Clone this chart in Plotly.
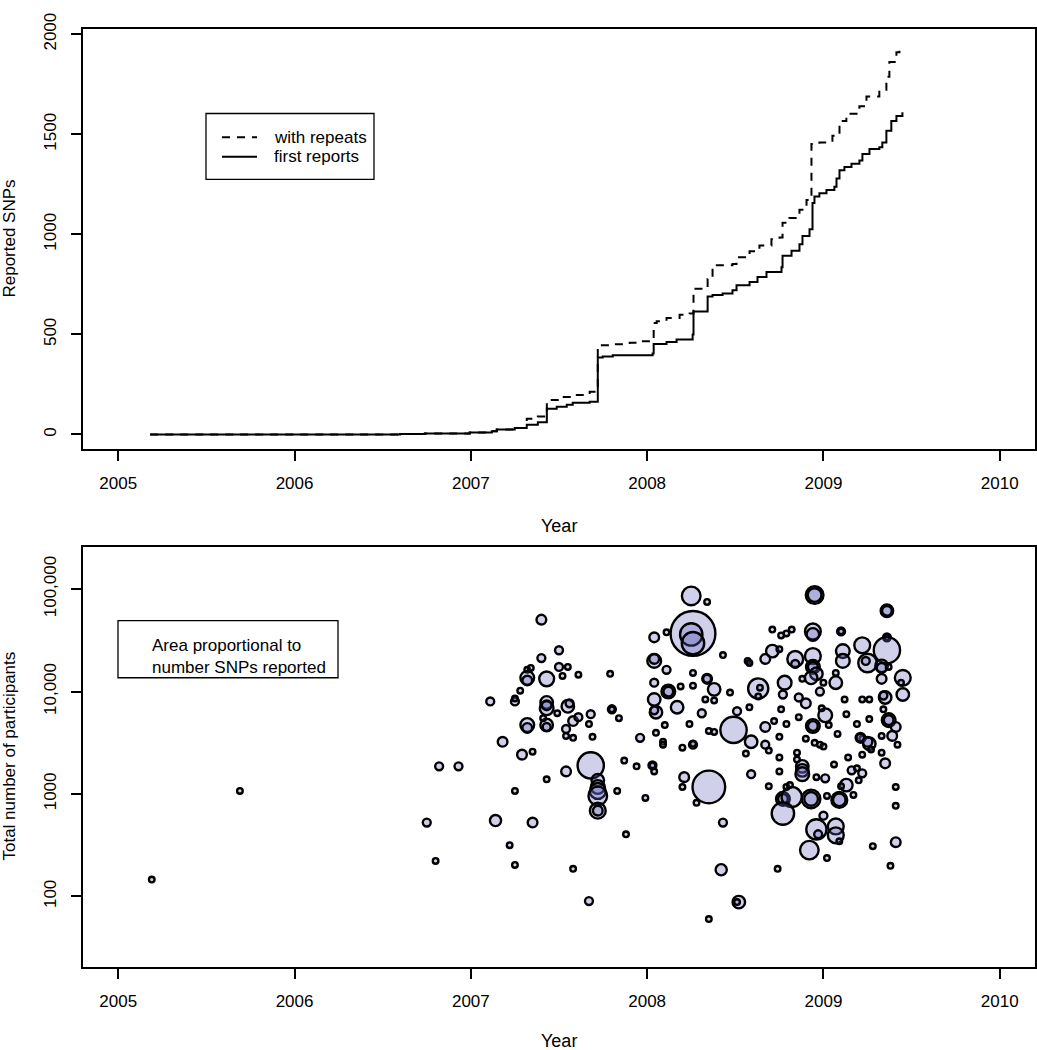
import plotly.graph_objects as go

# ---------------- Top panel: cumulative reported SNPs (step lines) ----------------
first_year = [2005.181, 2006.598, 2006.739, 2006.994, 2007.119, 2007.147, 2007.249, 2007.317,
              2007.380, 2007.431, 2007.487, 2007.544, 2007.578, 2007.674, 2007.720, 2007.748,
              2007.805, 2008.031, 2008.037, 2008.110, 2008.167, 2008.258, 2008.263, 2008.343,
              2008.371, 2008.428, 2008.484, 2008.507, 2008.581, 2008.626, 2008.677, 2008.762,
              2008.768, 2008.819, 2008.864, 2008.881, 2008.921, 2008.938, 2008.949, 2008.977,
              2009.017, 2009.062, 2009.074, 2009.091, 2009.119, 2009.159, 2009.204, 2009.221,
              2009.261, 2009.317, 2009.334, 2009.357, 2009.385, 2009.414, 2009.448]
first_snps = [0, 3, 5, 10, 16, 25, 33, 49,
              61, 128, 139, 148, 159, 164, 385, 390,
              396, 405, 452, 462, 475, 500, 615, 689,
              697, 705, 721, 746, 762, 787, 812, 836,
              893, 918, 951, 992, 1025, 1156, 1189, 1205,
              1221, 1238, 1279, 1320, 1336, 1353, 1369, 1402,
              1427, 1435, 1459, 1517, 1566, 1591, 1610]

rep_year = [2005.181, 2006.598, 2006.739, 2006.994, 2007.119, 2007.147, 2007.249, 2007.317,
            2007.380, 2007.431, 2007.521, 2007.601, 2007.674, 2007.714, 2007.720, 2007.788,
            2007.901, 2007.958, 2008.031, 2008.037, 2008.054, 2008.110, 2008.184, 2008.241,
            2008.263, 2008.343, 2008.371, 2008.484, 2008.507, 2008.581, 2008.637, 2008.705,
            2008.751, 2008.768, 2008.807, 2008.864, 2008.904, 2008.932, 2008.977, 2009.051,
            2009.091, 2009.130, 2009.204, 2009.244, 2009.317, 2009.357, 2009.374, 2009.414,
            2009.431]
rep_snps = [0, 3, 5, 10, 16, 25, 33, 79,
            90, 172, 187, 197, 213, 241, 446, 451,
            458, 466, 476, 557, 566, 582, 598, 605,
            728, 777, 846, 852, 885, 915, 944, 976,
            984, 1058, 1082, 1123, 1172, 1451, 1459, 1492,
            1566, 1602, 1640, 1689, 1722, 1787, 1861, 1910,
            1918]

# ---------------- Bottom panel: studies (year, participants, SNPs reported) ----------------
study_year = [
    2005.19, 2005.69, 2006.82, 2006.93, 2006.75, 2006.80, 2007.14, 2007.35, 2007.22, 2007.25,
    2007.25, 2007.18, 2007.29, 2007.35, 2007.43, 2007.54, 2007.68, 2007.72, 2007.72, 2007.72,
    2007.72, 2007.72, 2007.72, 2007.58, 2007.67, 2007.83, 2007.88, 2007.87, 2007.94, 2008.03,
    2008.03, 2008.04, 2007.99, 2007.96, 2008.09, 2008.09, 2008.20, 2008.26, 2008.21, 2008.20,
    2008.28, 2008.35, 2008.43, 2008.42, 2008.52, 2008.51, 2008.35, 2008.74, 2008.59, 2008.56,
    2008.59, 2008.67, 2008.69, 2008.75, 2008.75, 2008.69, 2008.77, 2008.77, 2008.82, 2008.77,
    2008.79, 2008.81, 2008.85, 2008.85, 2008.88, 2008.88, 2008.88, 2008.90, 2008.95, 2008.98,
    2009.00, 2008.93, 2008.93, 2009.09, 2009.09, 2008.96, 2009.07, 2009.07, 2009.09, 2008.97,
    2009.00, 2008.92, 2009.02, 2009.02, 2009.13, 2009.10, 2009.17, 2009.06, 2009.14, 2008.96,
    2009.01, 2009.16, 2009.19, 2009.22, 2009.20, 2009.22, 2009.35, 2009.33, 2009.41, 2009.41,
    2009.41, 2009.38, 2009.28, 2009.22, 2009.26, 2009.27, 2009.42,
    2007.40, 2007.50, 2007.40, 2007.50, 2007.55, 2007.32, 2007.34, 2007.43, 2007.32, 2007.32,
    2007.52, 2007.61, 2007.79, 2007.28, 2007.11, 2007.25, 2007.25, 2007.43, 2007.43, 2007.43,
    2007.55, 2007.56, 2007.49, 2007.68, 2007.80, 2007.80, 2007.84, 2007.58, 2007.61, 2007.32,
    2007.32, 2007.43, 2007.43, 2007.41, 2007.67, 2007.54, 2007.54, 2007.58, 2007.69, 2008.05,
    2008.25, 2008.26, 2008.25, 2008.26, 2008.04, 2008.11, 2008.04, 2008.04, 2008.11, 2008.26,
    2008.26, 2008.19, 2008.04, 2008.12, 2008.12, 2008.04, 2008.17, 2008.05, 2008.04, 2008.10,
    2008.24, 2008.26,
    2008.95, 2008.95, 2009.36, 2009.36, 2008.34, 2008.71, 2008.76, 2008.79, 2008.82, 2008.94,
    2008.94, 2009.10, 2009.10, 2009.36, 2009.36, 2009.36, 2009.22, 2009.25, 2009.24, 2009.33,
    2009.33, 2009.37, 2009.45, 2009.44, 2009.45, 2009.33, 2009.35, 2009.34, 2009.11, 2009.11,
    2009.07, 2009.07, 2009.00, 2008.98, 2008.84, 2008.84, 2008.94, 2008.94, 2008.94, 2008.96,
    2008.93, 2008.88, 2008.78, 2008.77, 2008.71, 2008.75, 2008.67, 2008.57, 2008.58, 2008.43,
    2008.63, 2008.64, 2008.63, 2008.34, 2008.34, 2008.38, 2008.38, 2008.33, 2008.47, 2008.51,
    2008.58, 2008.49, 2008.31, 2008.35, 2008.38, 2008.67, 2008.75, 2008.72, 2008.79, 2008.76,
    2008.86, 2008.90, 2008.86, 2009.01, 2008.99, 2008.94, 2008.94, 2009.03, 2009.08, 2009.12,
    2009.13, 2009.22, 2009.26, 2009.19, 2009.26, 2009.34, 2009.37, 2009.37, 2009.41, 2009.39,
    2009.21, 2009.21, 2009.33, 2009.25]
study_participants = [
    146, 1070, 1860, 1860, 526, 222, 550, 526, 316, 203,
    1070, 3230, 2420, 2590, 1390, 1660, 1900, 1360, 1170, 1070,
    957, 687, 687, 186, 90, 1070, 404, 2120, 1860, 1900,
    1900, 1660, 915, 3530, 3230, 3030, 2830, 3030, 1460, 1170,
    819, 1170, 526, 182, 88, 88, 60, 186, 1560, 2480,
    3230, 3030, 2650, 2270, 1660, 1190, 895, 895, 935, 643,
    1170, 1220, 2530, 2170, 1860, 1700, 1560, 3460, 3160, 3030,
    2900, 895, 895, 875, 875, 451, 482, 395, 345, 404,
    614, 283, 237, 957, 1220, 1190, 978, 1940, 2270, 1460,
    1420, 1700, 1780, 1590, 1360, 2420, 1990, 2530, 1170, 767,
    338, 199, 309, 3460, 3090, 2710, 3030,
    50300, 25300, 21200, 17400, 17400, 16300, 17000, 13300, 13600, 12800,
    14200, 14600, 14900, 10200, 8010, 8010, 8570, 7830, 6870, 7330,
    7170, 7670, 6140, 6010, 6710, 6710, 5500, 5150, 5620, 4710,
    4410, 4710, 4510, 5500, 4820, 4310, 3690, 3530, 3610, 3950,
    85700, 36900, 36100, 29600, 33800, 37800, 19900, 20800, 16300, 15200,
    11400, 11200, 12200, 10000, 10000, 8370, 7020, 6280, 6560, 4710,
    4820, 3090,
    87500, 87500, 61400, 61400, 75000, 40300, 35300, 36900, 40300, 38600,
    36100, 38600, 38600, 33800, 33800, 25300, 28300, 19000, 19900, 17800,
    17000, 17400, 13600, 12200, 9350, 13300, 8750, 9150, 24800, 19900,
    15200, 12200, 12200, 10000, 20800, 18600, 22200, 17400, 17400, 14900,
    13600, 13300, 12200, 9350, 24800, 25900, 20800, 19900, 19000, 22700,
    10700, 10900, 8950, 13300, 13300, 10500, 8190, 8370, 9780, 6430,
    7020, 4220, 6140, 4120, 4030, 4510, 3610, 5150, 4820, 6710,
    8750, 7670, 5620, 5870, 6870, 4610, 4610, 4710, 3860, 8370,
    6010, 8370, 8370, 4820, 5380, 6710, 5260, 5260, 4510, 3690,
    3530, 3530, 3690, 3230]
study_snps = [
    1, 1, 2, 2, 2, 1, 4, 3, 1, 1,
    1, 3, 3, 1, 1, 3, 22, 5, 6, 8,
    11, 8, 3, 1, 2, 1, 1, 1, 1, 2,
    1, 1, 1, 2, 1, 1, 1, 2, 3, 1,
    1, 34, 2, 4, 5, 1, 1, 1, 2, 1,
    5, 2, 1, 1, 1, 1, 6, 3, 13, 16,
    1, 1, 1, 1, 5, 5, 6, 1, 1, 1,
    1, 11, 6, 8, 5, 13, 8, 8, 1, 2,
    2, 11, 1, 1, 5, 1, 1, 1, 1, 1,
    2, 2, 1, 2, 1, 1, 3, 1, 1, 1,
    3, 1, 1, 1, 5, 1, 1,
    3, 2, 2, 2, 1, 1, 1, 7, 6, 3,
    1, 1, 1, 1, 2, 2, 1, 5, 6, 3,
    5, 2, 1, 2, 2, 1, 1, 3, 2, 6,
    3, 5, 2, 1, 1, 2, 1, 1, 1, 1,
    11, 64, 16, 16, 3, 1, 6, 3, 2, 1,
    1, 1, 2, 6, 3, 5, 5, 5, 2, 1,
    1, 1,
    10, 6, 5, 3, 1, 1, 1, 1, 1, 8,
    5, 2, 1, 2, 1, 22, 8, 11, 2, 5,
    3, 1, 8, 1, 5, 3, 5, 2, 6, 6,
    1, 5, 1, 2, 8, 2, 8, 6, 3, 5,
    5, 1, 6, 2, 5, 1, 3, 1, 1, 1,
    13, 1, 1, 3, 2, 5, 1, 1, 1, 2,
    1, 22, 2, 1, 1, 3, 1, 1, 1, 1,
    2, 3, 1, 6, 1, 6, 3, 1, 1, 1,
    1, 1, 1, 1, 1, 1, 6, 3, 3, 3,
    3, 2, 1, 3]

x_ticks = [2005, 2006, 2007, 2008, 2009, 2010]
top_y_ticks = [0, 500, 1000, 1500, 2000]
bottom_y_ticks = [100, 1000, 10000, 100000]
bottom_y_ticktext = ["100", "1000", "10,000", "100,000"]

FONT = "Liberation Sans, Arial, Helvetica, sans-serif"
W, H = 1037, 1050

def px(x):
    return x / W

def py(y):
    return 1 - y / H

fig = go.Figure()

fig.add_trace(go.Scatter(x=rep_year, y=rep_snps, mode="lines", line_shape="hv",
                         line=dict(color="black", width=2, dash="8px,7px"),
                         xaxis="x", yaxis="y", showlegend=False, hoverinfo="skip"))
fig.add_trace(go.Scatter(x=first_year, y=first_snps, mode="lines", line_shape="hv",
                         line=dict(color="black", width=2),
                         xaxis="x", yaxis="y", showlegend=False, hoverinfo="skip"))

sizes = [5.6 * (s ** 0.5) for s in study_snps]
fig.add_trace(go.Scatter(x=study_year, y=study_participants, mode="markers",
                         marker=dict(size=sizes, sizemode="diameter", opacity=1,
                                     color="rgba(100,100,190,0.3)",
                                     line=dict(color="#000000", width=2.4)),
                         xaxis="x2", yaxis="y2", showlegend=False))

axis_common = dict(showline=True, linecolor="black", linewidth=1.5, mirror=True,
                   ticks="outside", ticklen=10, tickwidth=1.5, tickcolor="black",
                   showgrid=False, zeroline=False, ticklabeloverflow="allow",
                   tickfont=dict(family=FONT, size=17, color="black"))

fig.update_layout(
    width=W, height=H, autosize=False,
    margin=dict(l=0, r=0, t=0, b=0),
    paper_bgcolor="white", plot_bgcolor="white",
    font=dict(family=FONT, size=17, color="black"),
    xaxis=dict(domain=[px(83), px(1035)], range=[2004.8, 2010.2], anchor="y",
               tickvals=x_ticks, ticklabelstandoff=8, **axis_common),
    yaxis=dict(domain=[py(440), py(13)], range=[-74, 2027], anchor="x",
               tickvals=top_y_ticks, tickangle=-90, ticklabelstandoff=8, **axis_common),
    xaxis2=dict(domain=[px(83), px(1035)], range=[2004.8, 2010.2], anchor="y2",
                tickvals=x_ticks, ticklabelstandoff=8, **axis_common),
    yaxis2=dict(domain=[py(966), py(539)], type="log", range=[1.308, 5.413], anchor="x2",
                tickvals=bottom_y_ticks, ticktext=bottom_y_ticktext, tickangle=-90,
                ticklabelstandoff=8, **axis_common),
)

annotations = [
    dict(text="Year", x=px(559), y=py(518), xref="paper", yref="paper",
         showarrow=False, xanchor="center", yanchor="middle", font=dict(size=18)),
    dict(text="Year", x=px(559), y=py(1041), xref="paper", yref="paper",
         showarrow=False, xanchor="center", yanchor="middle", font=dict(size=18)),
    dict(text="Reported SNPs", x=px(10), y=py(226), xref="paper", yref="paper",
         showarrow=False, textangle=-90, xanchor="center", yanchor="middle"),
    dict(text="Total number of participants", x=px(10), y=py(752), xref="paper", yref="paper",
         showarrow=False, textangle=-90, xanchor="center", yanchor="middle"),
    dict(text="with repeats", x=px(272), y=py(123), xref="paper", yref="paper",
         showarrow=False, xanchor="left", yanchor="middle"),
    dict(text="first reports", x=px(272), y=py(143), xref="paper", yref="paper",
         showarrow=False, xanchor="left", yanchor="middle"),
    dict(text="Area proportional to<br>number SNPs reported", x=px(150), y=py(650),
         xref="paper", yref="paper", showarrow=False, xanchor="left", yanchor="middle",
         align="left"),
]
fig.update_layout(annotations=annotations)

shapes = [
    dict(type="rect", xref="paper", yref="paper", x0=px(206), x1=px(374), y0=py(166), y1=py(99),
         line=dict(color="black", width=1.3), fillcolor="rgba(0,0,0,0)"),
    dict(type="line", xref="paper", yref="paper", x0=px(222), x1=px(257), y0=py(123), y1=py(123),
         line=dict(color="black", width=2, dash="8px,7px")),
    dict(type="line", xref="paper", yref="paper", x0=px(222), x1=px(257), y0=py(143), y1=py(143),
         line=dict(color="black", width=2)),
    dict(type="rect", xref="paper", yref="paper", x0=px(118), x1=px(338), y0=py(672), y1=py(614),
         line=dict(color="black", width=1.3), fillcolor="rgba(0,0,0,0)"),
]
fig.update_layout(shapes=shapes)

fig.write_html("out.html", config={"responsive": False, "displayModeBar": False},
               post_script="document.body.style.margin='0px';document.body.style.overflow='hidden';")
